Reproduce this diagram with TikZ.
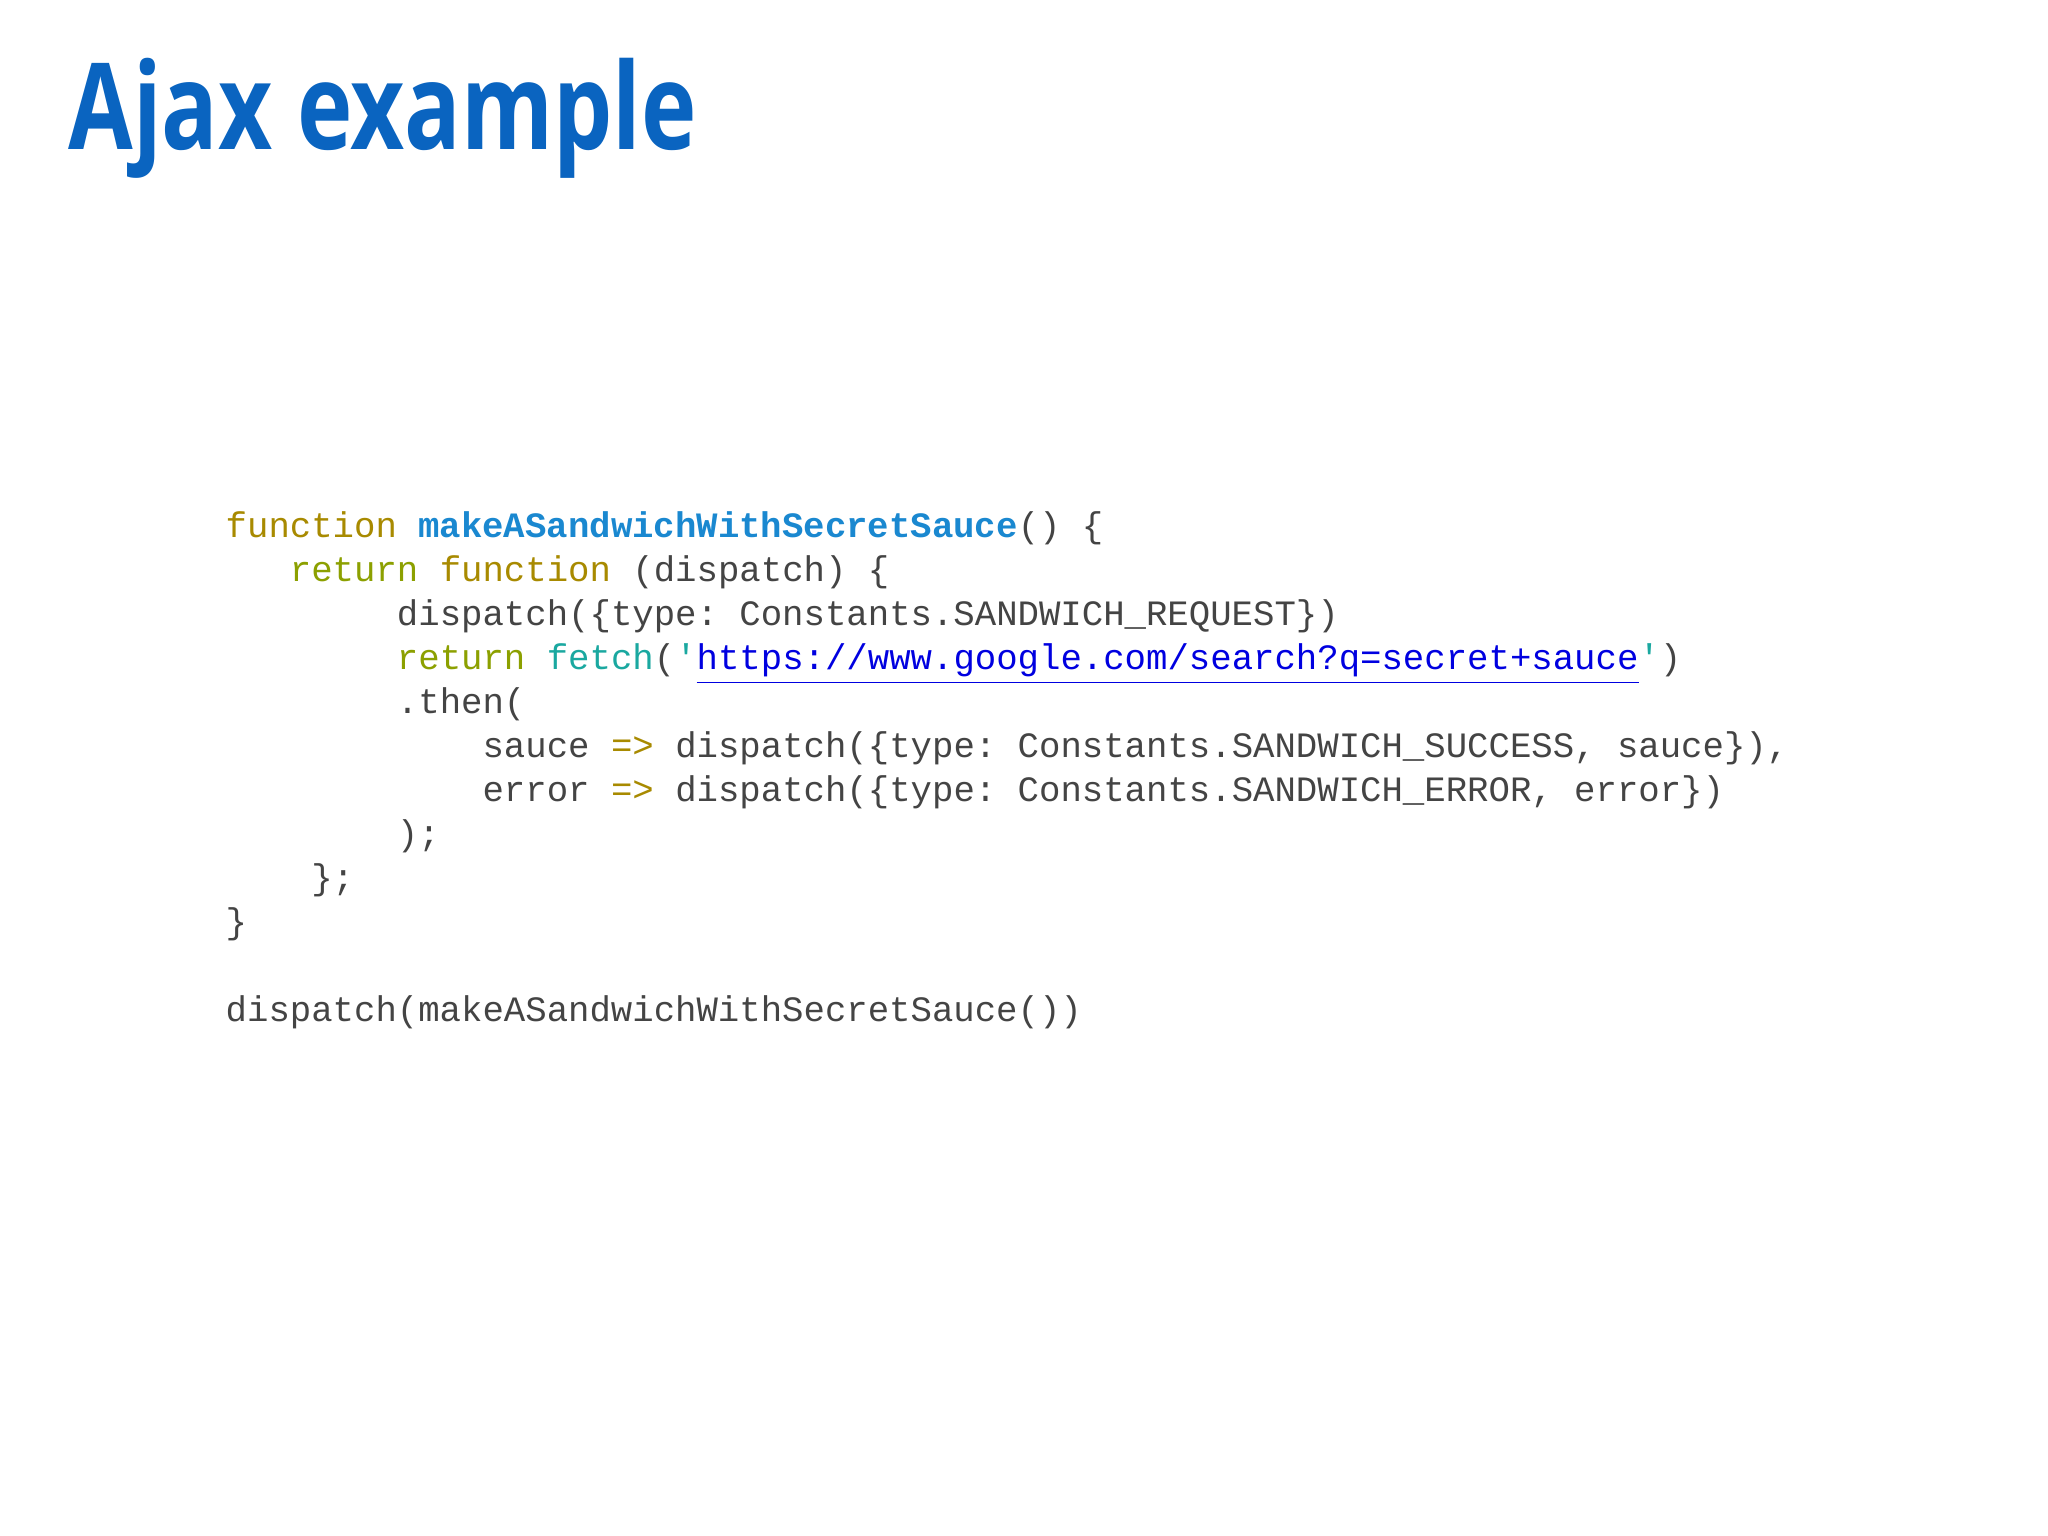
\documentclass[tikz,border=0pt]{standalone}
\usepackage{fontspec}
\setmainfont{Open Sans}
\setmonofont{Liberation Mono}
\usepackage{graphicx}
\definecolor{tblue}{HTML}{0A64C0}
\definecolor{ctext}{HTML}{444444}
\definecolor{ckw}{HTML}{A88A00}
\definecolor{cret}{HTML}{8CA000}
\definecolor{cfetch}{HTML}{1AA8A0}
\definecolor{cname}{HTML}{1A88D0}
\definecolor{curl}{HTML}{0000E0}
\tikzset{codeline/.style={anchor=base west,inner sep=0,font=\fontsize{10.15pt}{12pt}\ttfamily,text=ctext}}
\newcommand{\kw}[1]{\textcolor{ckw}{#1}}
\begin{document}
\begin{tikzpicture}[x=1cm,y=1cm]
\useasboundingbox[fill=white] (0,0) rectangle (20.48,15.36);
\node[anchor=base west,inner sep=0,text=tblue] (title) at (0.68,15.36-1.50)
  {\resizebox{6.28cm}{!}{\fontsize{40pt}{44pt}\selectfont\bfseries\addfontfeature{FakeStretch=0.78}Ajax example}};
\def\cx{2.25}
\node[codeline] (l1) at (\cx,15.36-5.38) {\kw{function} \textcolor{cname}{\bfseries makeASandwichWithSecretSauce}() \{};
\node[codeline] (l2) at (\cx,15.36-5.82) {\ \ \ \textcolor{cret}{return} \kw{function} (dispatch) \{};
\node[codeline] (l3) at (\cx,15.36-6.26) {\ \ \ \ \ \ \ \ dispatch(\{type: Constants.SANDWICH\_REQUEST\})};
\node[codeline] (l4) at (\cx,15.36-6.70) {\ \ \ \ \ \ \ \ \textcolor{cret}{return} \textcolor{cfetch}{fetch}(\textcolor{cfetch}{'}\textcolor{curl}{\underline{https://www.google.com/search?q=secret+sauce}}\textcolor{cfetch}{'})};
\node[codeline] (l5) at (\cx,15.36-7.14) {\ \ \ \ \ \ \ \ .then(};
\node[codeline] (l6) at (\cx,15.36-7.58) {\ \ \ \ \ \ \ \ \ \ \ \ sauce \kw{=>} dispatch(\{type: Constants.SANDWICH\_SUCCESS, sauce\}),};
\node[codeline] (l7) at (\cx,15.36-8.02) {\ \ \ \ \ \ \ \ \ \ \ \ error \kw{=>} dispatch(\{type: Constants.SANDWICH\_ERROR, error\})};
\node[codeline] (l8) at (\cx,15.36-8.46) {\ \ \ \ \ \ \ \ );};
\node[codeline] (l9) at (\cx,15.36-8.90) {\ \ \ \ \};};
\node[codeline] (l10) at (\cx,15.36-9.34) {\}};
\node[codeline] (l12) at (\cx,15.36-10.22) {dispatch(makeASandwichWithSecretSauce())};
\end{tikzpicture}
\end{document}
